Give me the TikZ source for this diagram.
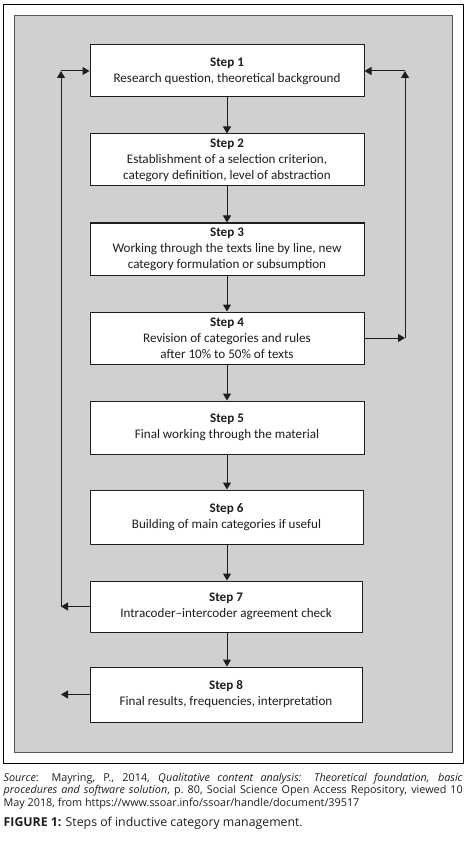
\documentclass[tikz,border=0pt]{standalone}
\usepackage{fontspec}
\setmainfont{Carlito}
\newfontfamily\capfont{Open Sans}
\usetikzlibrary{arrows.meta}
\definecolor{panelgray}{HTML}{D0D0D0}
\definecolor{inkcol}{HTML}{1E1E1E}
\tikzset{
  stepbox/.style={draw=inkcol, line width=1pt, fill=white, text=inkcol,
    minimum width=274pt, minimum height=52pt, inner sep=0pt, align=center,
    font=\fontsize{13.1}{16}\selectfont},
  flow/.style={draw=inkcol, line width=1pt, -{Triangle[length=7pt,width=8pt]}}
}
\begin{document}
\begin{tikzpicture}[x=1pt,y=-1pt]
\useasboundingbox (0,0) rectangle (465,842);
\draw[black, line width=0.9pt] (3.5,4) rectangle (463,763);
\draw[draw=gray!70!black, fill=panelgray, line width=0.8pt] (14,15) rectangle (452,752);

\node[stepbox] (s1) at (227,71) {\textbf{Step 1}\\Research question, theoretical background};
\node[stepbox] (s2) at (227,160) {\textbf{Step 2}\\Establishment of a selection criterion,\\category definition, level of abstraction};
\node[stepbox] (s3) at (227,249) {\textbf{Step 3}\\Working through the texts line by line, new\\category formulation or subsumption};
\node[stepbox] (s4) at (227,338) {\textbf{Step 4}\\Revision of categories and rules\\after 10\% to 50\% of texts};
\node[stepbox, minimum height=53pt] (s5) at (227,427.5) {\textbf{Step 5}\\Final working through the material};
\node[stepbox, minimum width=273pt, minimum height=54pt] (s6) at (226.5,517) {\textbf{Step 6}\\Building of main categories if useful};
\node[stepbox, minimum width=272pt, minimum height=51pt] (s7) at (226,606.5) {\textbf{Step 7}\\Intracoder--intercoder agreement check};
\node[stepbox, minimum width=272pt, minimum height=55pt] (s8) at (226,694.5) {\textbf{Step 8}\\Final results, frequencies, interpretation};

\coordinate (lb) at (61,606.5);
\coordinate (lt) at (61,71);
\coordinate (rb) at (405,338);
\coordinate (rt) at (405,71);
\coordinate (e8) at (61,694.5);

\draw[flow] (s1.south) -- (s2.north);
\draw[flow] (s2.south) -- (s3.north);
\draw[flow] (s3.south) -- (s4.north);
\draw[flow] (s4.south) -- (s5.north);
\draw[flow] (s5.south) -- (s6.north -| s5.south);
\draw[flow] (s6.south -| s5.south) -- (s7.north -| s5.south);
\draw[flow] (s7.south -| s5.south) -- (s8.north -| s5.south);

\draw[flow] (s7.west) -- (lb);
\draw[flow] (lb) -- (lt);
\draw[flow] (lt) -- (s1.west);

\draw[flow] (s4.east) -- (rb);
\draw[flow] (rb) -- (rt);
\draw[flow] (rt) -- (s1.east);

\draw[flow] (s8.west) -- (e8);

\node[anchor=base west, inner sep=0pt, text width=459pt, align=justify, text=inkcol,
  font=\capfont\fontsize{10.8}{12.6}\selectfont] (src) at (3.5,781)
  {\textit{Source}: Mayring, P., 2014, \textit{Qualitative content analysis: Theoretical foundation, basic\linebreak
  procedures and software solution}, p.~80, Social Science Open Access Repository, viewed 10\linebreak
  May 2018, from https://www.ssoar.info/ssoar/handle/document/39517};
\node[anchor=base west, inner sep=0pt, text=inkcol, font=\capfont\fontsize{12.3}{14}\selectfont] (cap) at (3.5,826)
  {\textbf{FIGURE 1:} Steps of inductive category management.};
\end{tikzpicture}
\end{document}
